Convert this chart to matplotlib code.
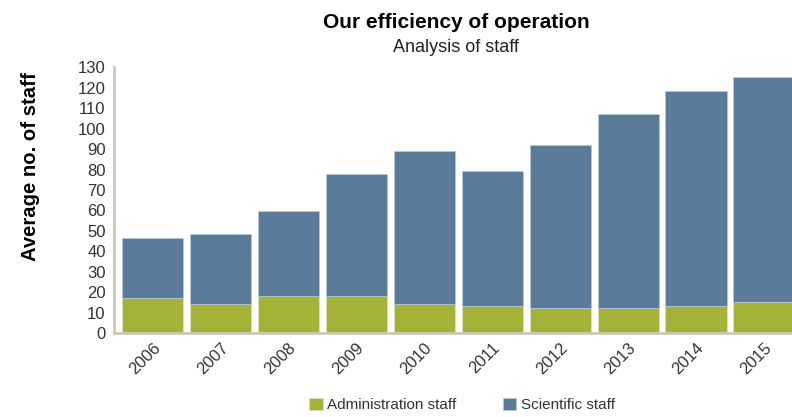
import matplotlib
matplotlib.use("Agg")
import matplotlib.pyplot as plt
import numpy as np

plt.rcParams["font.family"] = ["Liberation Sans", "DejaVu Sans"]

# ---------- 数据 ----------
years = ["2006", "2007", "2008", "2009", "2010", "2011", "2012", "2013", "2014", "2015"]
admin_staff = [17, 14, 18, 18, 14, 13, 12, 12, 13, 15]
total_staff = [46.5, 48.5, 59.5, 78, 89, 79.5, 92, 107, 118.5, 125.5]
scientific_staff = [t - a for t, a in zip(total_staff, admin_staff)]

GREEN = "#a4b237"
BLUE = "#5a7c9a"
SPINE = "#ccc8b8"
TEXT = "#333333"

W, H = 792, 417
fig = plt.figure(figsize=(W / 100, H / 100), dpi=100)
# 轴右侧超出画布，最后一根柱子被截断
left, right, bottom, top = 114, 798, 333, 67.5
ax = fig.add_axes([left / W, 1 - bottom / H, (right - left) / W, (bottom - top) / H])

x = np.arange(len(years))
ax.bar(x, admin_staff, width=0.9, color=GREEN, edgecolor="#dfe5c0", linewidth=0.5,
       label="Administration staff", zorder=2)
ax.bar(x, scientific_staff, width=0.9, bottom=admin_staff, color=BLUE,
       edgecolor="#b9c8d6", linewidth=0.5, label="Scientific staff", zorder=2)

ax.set_xlim(-0.566, 9.5)
ax.set_ylim(0, 130)
ax.set_yticks(range(0, 131, 10))
ax.set_xticks(x)
ax.set_xticklabels(years, rotation=45, ha="right", va="top", rotation_mode="anchor")
ax.tick_params(axis="both", length=0, labelsize=12, colors=TEXT)
ax.tick_params(axis="y", pad=6)
ax.tick_params(axis="x", pad=5)

for side in ["top", "right"]:
    ax.spines[side].set_visible(False)
for side in ["left", "bottom"]:
    ax.spines[side].set_color(SPINE)
    ax.spines[side].set_linewidth(2)

fig.text(456 / W, 1 - 23 / H, "Our efficiency of operation", ha="center", va="center",
         fontsize=15, fontweight="bold", color="black")
fig.text(456 / W, 1 - 48 / H, "Analysis of staff", ha="center", va="center",
         fontsize=13, color="#222222")
fig.text(31 / W, 1 - 167 / H, "Average no. of staff", ha="center", va="center",
         rotation=90, fontsize=14.6, fontweight="bold", color="black")

fig.legend(loc="center", bbox_to_anchor=(462 / W, 1 - 405 / H), ncol=2, frameon=False,
           fontsize=11, handlelength=0.9, handleheight=0.9, handletextpad=0.3,
           columnspacing=3.0, labelcolor=TEXT)

fig.savefig("out.png", dpi=100)
